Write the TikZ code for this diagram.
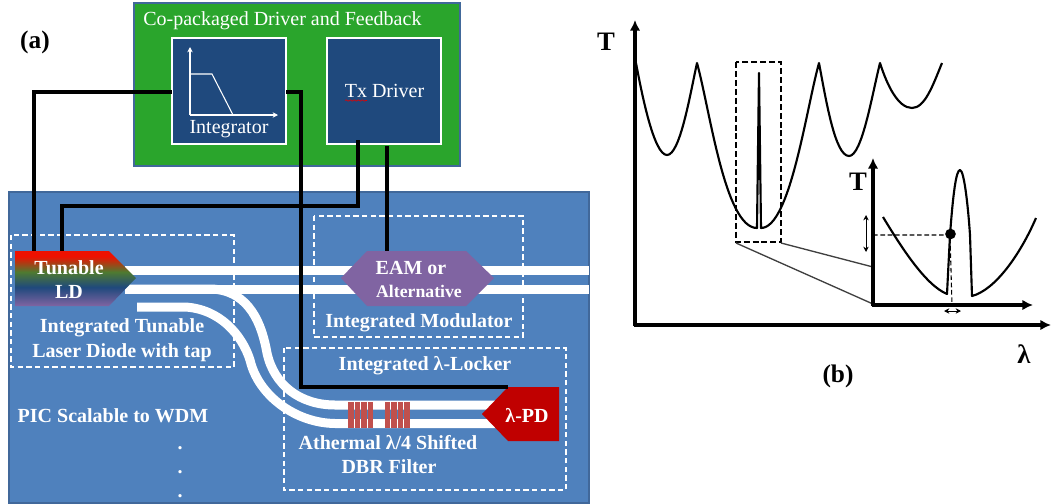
\documentclass[tikz,border=0pt]{standalone}
\usepackage{fontspec}
\setmainfont{Liberation Serif}
\usetikzlibrary{arrows.meta,decorations.pathmorphing}
\definecolor{picblue}{HTML}{4F81BD}
\definecolor{picedge}{HTML}{41689A}
\definecolor{drvgreen}{HTML}{2AA52C}
\definecolor{boxblue}{HTML}{1F497D}
\definecolor{eampurple}{HTML}{8064A2}
\definecolor{pdred}{HTML}{C00000}
\definecolor{gratred}{HTML}{C0504D}
\definecolor{ldgreen}{HTML}{4F7A30}
\definecolor{ldred}{HTML}{EE1100}
\pgfdeclareverticalshading{ldgrad}{100bp}{color(0bp)=(eampurple); color(25bp)=(eampurple); color(42bp)=(boxblue); color(56bp)=(ldgreen); color(70bp)=(ldred); color(100bp)=(ldred)}
\tikzset{
  x=0.75pt,y=-0.75pt,
  panel/.style={draw=picedge,line width=1pt},
  ctl/.style={draw=white,line width=1.5pt,fill=boxblue},
  dashbox/.style={draw=white,line width=1pt,dash pattern=on 4pt off 2.5pt},
  wire/.style={draw=black,line width=3.6pt,line cap=butt,line join=miter},
  guide/.style={draw=white,line width=6.75pt},
  wt/.style={text=white,font=\fontsize{15}{18}\selectfont\bfseries,align=center,inner sep=0pt},
  wn/.style={text=white,font=\fontsize{15}{18}\selectfont,align=center,inner sep=0pt},
  bt/.style={text=black,font=\fontsize{19}{22}\selectfont\bfseries,inner sep=0pt},
  curve/.style={draw=black,line width=1.6pt,line join=round},
  axis/.style={draw=black,line width=2.6pt,-{Latex[length=8pt,width=8pt]}},
  thinarrow/.style={draw=black,line width=0.7pt,{Stealth[length=4pt,width=4pt]}-{Stealth[length=4pt,width=4pt]}},
}
\begin{document}
\begin{tikzpicture}
\useasboundingbox (0,0) rectangle (1051,504);
% panels
\fill[picblue] (9,192) rectangle (589,503);
\draw[panel] (9,192) rectangle (589,503);
\fill[drvgreen] (134,3) rectangle (460,166);
\draw[panel] (134,3) rectangle (460,166);
\node[wn,anchor=west] (drvtitle) at (143,21) {Co-packaged Driver and Feedback};
% driver boxes
\path[ctl] (172,38) rectangle (286,144);
\path[ctl] (327,38) rectangle (441,144);
\coordinate (intL) at (172,92);
\coordinate (intR) at (286,92);
\coordinate (txA) at (358,140);
\coordinate (txB) at (387,146);
\node[wn] (inttext) at (229,129) {Integrator};
\node[wn] (txtext) at (384.5,91) {Tx Driver};
\draw[red!90!black,line width=0.5pt,decorate,decoration={snake,amplitude=0.5pt,segment length=3pt}] (345,100.5) -- (367,100.5);
\draw[white,line width=0.8pt,-{Stealth[length=4pt,width=4pt]}] (190,115) -- (190,47);
\draw[white,line width=0.8pt,-{Stealth[length=4pt,width=4pt]}] (190,115) -- (278,115);
\draw[white,line width=0.8pt] (190,74) -- (212,74) -- (233,115);
% dashed regions
\draw[dashbox] (11,235) rectangle (234,367);
\draw[dashbox] (314,216) rectangle (523,337);
\draw[dashbox] (284,348) rectangle (566,490);
% waveguides
\draw[guide] (125,270) -- (589,270);
\draw[guide] (125,289) -- (589,289);
\draw[guide] (125,289) -- (212,289) .. controls (250,291) and (262,325) .. (267,353) .. controls (274,385) and (300,405) .. (335,405) -- (500,405);
\draw[guide] (137,307) -- (185,307) .. controls (220,309) and (242,335) .. (250,360) .. controls (258,395) and (295,423) .. (335,423.5) -- (500,423.5);
% gratings
\foreach \gx in {348,354.5,361,367.5,384.5,391,397.5,404}{
  \fill[gratred] (\gx,402) rectangle ++(5.5,26);
}
% devices
\shade[shading=ldgrad] (15,251) -- (109,251) -- (136,278) -- (109,306) -- (15,306) -- cycle;
\node[wt] (ldtext) at (69,280) {Tunable\\LD};
\fill[eampurple] (341,278) -- (367,251) -- (466,251) -- (494,278) -- (466,306) -- (367,306) -- cycle;
\node[wt] (eam1) at (411,268) {EAM or};
\node[wt,font=\fontsize{13.3}{15}\selectfont\bfseries] (eam2) at (419,291) {Alternative};
\fill[pdred] (482,414) -- (508,387) -- (559,387) -- (559,441) -- (508,441) -- cycle;
\node[wt] (pdtext) at (527,415) {λ-PD};
\coordinate (ldA) at (34,251);
\coordinate (ldB) at (62,251);
\coordinate (eamTop) at (387,251);
\coordinate (pdTop) at (508,387);
% wires
\draw[wire] (intL) -- (34,92) -- (ldA);
\draw[wire] (intR) -- (301,92) -- (301,387) -- (pdTop);
\draw[wire] (txA) -- (358,206) -- (62,206) -- (ldB);
\draw[wire] (txB) -- (eamTop);
% labels
\node[wt] (l1) at (122,328) {Integrated Tunable};
\node[wt] (l2) at (122,353) {Laser Diode with tap};
\node[wt] (l3) at (419,323) {Integrated Modulator};
\node[wt] (l4) at (425,366) {Integrated λ-Locker};
\node[wt] (l5) at (388,443) {Athermal λ/4 Shifted};
\node[wt] (l6) at (389,467) {DBR Filter};
\node[wt] (l7) at (113,416) {PIC Scalable to WDM};
\node[wt] (d1) at (180,448) {.};
\node[wt] (d2) at (180,472) {.};
\node[wt] (d3) at (180,496) {.};
\node[bt] (a) at (35,42) {(a)};
\node[bt] (b) at (838,376) {(b)};
% chart b
\node[bt,font=\fontsize{20}{22}\selectfont\bfseries] (t1) at (606,42) {T};
\node[bt,font=\fontsize{20}{22}\selectfont\bfseries] (lam) at (1024,354) {λ};
\node[bt,font=\fontsize{20}{22}\selectfont\bfseries] (t2) at (858,182) {T};
\draw[axis] (635,326) -- (635,20);
\draw[axis] (633.5,325) -- (1051,325);
\draw[curve] (636,63) .. controls (642,95) and (654,155) .. (667,155) .. controls (680,155) and (690,95) .. (697,63)
  .. controls (710,110) and (725,228) .. (757,228) -- (759,73) -- (761,228)
  .. controls (790,228) and (806,110) .. (819,63)
  .. controls (826,100) and (835,156) .. (849,156) .. controls (862,156) and (872,95) .. (880,63)
  .. controls (887,85) and (898,108) .. (912,108) .. controls (925,108) and (933,85) .. (942,63);
\fill[black] (757.5,180) -- (759,73) -- (760.5,180) -- cycle;
\draw[draw=black,line width=2pt,dash pattern=on 4.5pt off 2.2pt] (736,62) rectangle (781,242);
\draw[black!75,line width=1pt] (736,243) -- (873,304);
\draw[black!75,line width=1pt] (781,243) -- (873,267);
\draw[axis] (873,306) -- (873,158);
\draw[axis] (871.5,305) -- (1033,305);
\draw[curve] (883,217) .. controls (900,245) and (925,285) .. (947,294) -- (950,235) .. controls (953,195) and (956,170) .. (960,170) .. controls (964,170) and (968,205) .. (970,235) -- (972,296) .. controls (995,290) and (1020,255) .. (1036,218);
\draw[black,line width=0.8pt,dash pattern=on 3.5pt off 2pt] (873,235) -- (950,235) -- (952,305);
\fill[black] (950.5,234) circle (4pt);
\draw[thinarrow] (866,215) -- (866,252);
\draw[thinarrow] (944,311) -- (961,311);
\end{tikzpicture}
\end{document}
